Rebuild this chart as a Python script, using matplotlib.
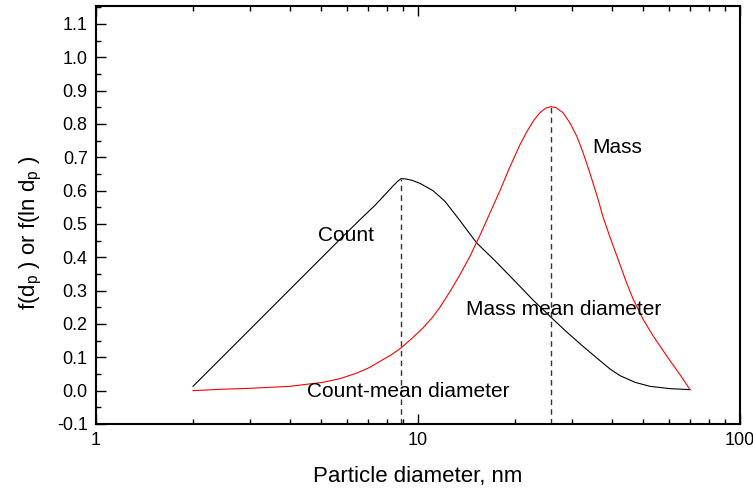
import matplotlib
matplotlib.use("Agg")
import matplotlib.pyplot as plt
from matplotlib.ticker import LogLocator, MultipleLocator, FixedLocator, NullFormatter

plt.rcParams['font.family'] = ['Liberation Sans', 'DejaVu Sans']
plt.rcParams['mathtext.fontset'] = 'custom'
plt.rcParams['mathtext.rm'] = 'Liberation Sans'

# Count distribution
count_d = [2.001, 2.608, 3.471, 4.619, 5.725, 6.605, 7.353, 7.898, 8.364, 8.668, 8.856,
           9.178, 9.580, 10.14, 11.13, 12.13, 13.50, 15.22, 17.34, 20.25, 22.76, 25.70,
           28.81, 32.54, 36.75, 39.48, 42.40, 47.21, 52.53, 60.62, 69.95]
count_f = [0.013, 0.124, 0.244, 0.364, 0.454, 0.513, 0.556, 0.588, 0.614, 0.629, 0.636,
           0.635, 0.631, 0.622, 0.600, 0.568, 0.510, 0.443, 0.390, 0.323, 0.272, 0.223,
           0.178, 0.133, 0.090, 0.065, 0.045, 0.025, 0.013, 0.006, 0.003]

# Mass distribution
mass_d = [2.001, 2.427, 3.008, 4.004, 5.070, 5.725, 6.465, 7.095, 7.621, 8.245, 8.856,
          9.580, 10.36, 11.05, 11.70, 12.57, 13.50, 14.50, 15.58, 16.73, 17.97, 19.31,
          20.74, 21.81, 22.93, 23.92, 24.97, 25.88, 26.83, 28.20, 29.65, 31.17, 32.54,
          34.21, 35.97, 37.54, 39.48, 41.50, 44.58, 46.53, 49.96, 53.67, 57.25, 60.62,
          65.12, 69.95]
mass_f = [0.0, 0.004, 0.007, 0.013, 0.025, 0.036, 0.053, 0.070, 0.088, 0.107, 0.128,
          0.157, 0.188, 0.218, 0.250, 0.297, 0.348, 0.403, 0.466, 0.533, 0.600, 0.672,
          0.738, 0.778, 0.812, 0.834, 0.848, 0.852, 0.849, 0.834, 0.803, 0.762, 0.715,
          0.652, 0.585, 0.522, 0.460, 0.403, 0.320, 0.276, 0.215, 0.165, 0.125, 0.090,
          0.048, 0.003]

count_mean_d, count_peak = 8.856, 0.636
mass_mean_d, mass_peak = 25.88, 0.852

yticks = [i / 10 for i in range(-1, 12)]
ytick_labels = ['%.1f' % v for v in yticks]
xticks = [1, 10, 100]
xtick_labels = ['1', '10', '100']

fig = plt.figure(figsize=(7.53, 4.91), dpi=100)
ax = fig.add_axes([0.1275, 0.1365, 0.8552, 0.8513])

ax.plot(count_d, count_f, color='black', lw=0.8)
ax.plot(mass_d, mass_f, color='red', lw=0.8)
ax.vlines([count_mean_d, mass_mean_d], -0.1, [count_peak, mass_peak],
          colors='#333333', linestyles=(0, (4, 3)), lw=1.0)

ax.set_xscale('log')
ax.set_xlim(1, 100)
ax.set_ylim(-0.1, 1.154)
ax.yaxis.set_major_locator(FixedLocator(yticks))
ax.yaxis.set_minor_locator(MultipleLocator(0.05))
ax.set_yticklabels(ytick_labels)
ax.xaxis.set_minor_locator(LogLocator(base=10, subs=range(2, 10)))
ax.xaxis.set_minor_formatter(NullFormatter())
ax.set_xticks(xticks)
ax.set_xticklabels(xtick_labels)

ax.tick_params(which='both', direction='in', top=True, right=False, labelsize=13, width=1.0)
ax.tick_params(which='major', length=7)
ax.tick_params(which='minor', length=3.8)
ax.tick_params(axis='x', pad=6)
ax.tick_params(axis='y', pad=6)
for sp in ax.spines.values():
    sp.set_linewidth(1.5)

ax.set_xlabel('Particle diameter, nm', fontsize=16, labelpad=12)
ax.set_ylabel(r'f(d$_\mathregular{p}$ ) or f(ln d$_\mathregular{p}$ )', fontsize=16)
ax.yaxis.set_label_coords(-0.081, 0.457)

ax.text(5.98, 0.4476, 'Count', fontsize=15, ha='center', va='baseline')
ax.text(34.7, 0.7125, 'Mass', fontsize=15, ha='left', va='baseline')
ax.text(14.1, 0.2278, 'Mass mean diameter', fontsize=15, ha='left', va='baseline')
ax.text(4.52, -0.019, 'Count-mean diameter', fontsize=15, ha='left', va='baseline')

fig.savefig('out.png', dpi=100)
